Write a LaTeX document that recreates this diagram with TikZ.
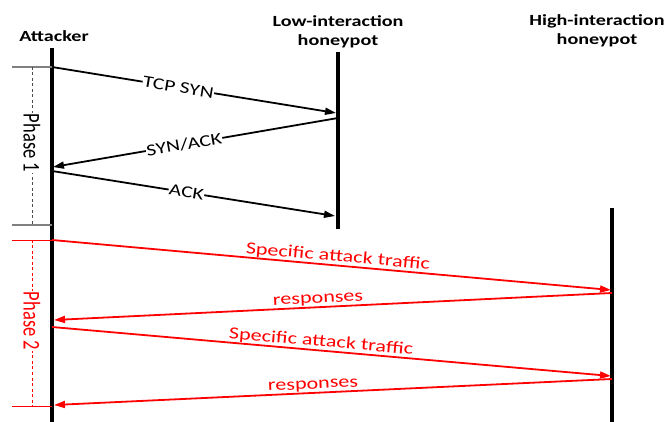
\documentclass[tikz,border=0pt]{standalone}
\usepackage{fontspec}
\setmainfont{Carlito}
\usepackage{graphicx}
\usetikzlibrary{arrows.meta}
\newcommand{\hx}[1]{\scalebox{1.3}[1]{#1}}
\newcommand{\vx}[1]{\scalebox{1}[1.3]{#1}}
\definecolor{ared}{RGB}{255,0,0}
\begin{document}
\begin{tikzpicture}[x=1pt,y=-1pt,
  header/.style={font=\fontsize{15.5}{19}\selectfont\bfseries, align=center, inner sep=0pt},
  lifeline/.style={line width=3.6pt},
  msg/.style={line width=1.8pt, -{Triangle[length=11pt,width=7pt]}},
  redmsg/.style={msg, draw=ared},
  blabel/.style={font=\fontsize{16.5}{18}\selectfont, fill=white, inner sep=0.5pt, sloped},
  rlabel/.style={font=\fontsize{17}{18}\selectfont, text=ared, inner sep=0.5pt, sloped, above},
  tick1/.style={draw=gray, line width=1.2pt},
  tick2/.style={draw=ared, line width=0.9pt},
  phaselab/.style={font=\fontsize{18.5}{20}\selectfont, fill=white, inner sep=1pt, rotate=-90}
]
\useasboundingbox (0,0) rectangle (670,422);

% headers
\node[header] (att) at (54,36) {\hx{Attacker}};
\node[header] (low) at (338,32) {\hx{Low-interaction}\\\hx{honeypot}};
\node[header] (high) at (597,31) {\hx{High-interaction}\\\hx{honeypot}};

% lifelines
\coordinate (aT) at (52,48);
\coordinate (aB) at (52,424);
\coordinate (lT) at (338,52);
\coordinate (lB) at (338,229);
\coordinate (hT) at (612,208);
\coordinate (hB) at (612,424);
\draw[lifeline] (aT) -- (aB);
\draw[lifeline] (lT) -- (lB);
\draw[lifeline] (hT) -- (hB);

% phase 1 bracket
\coordinate (p1a) at (12,67);
\coordinate (p1b) at (52,67);
\coordinate (p1c) at (12,225);
\coordinate (p1d) at (52,225);
\coordinate (p1t) at (32,67);
\coordinate (p1u) at (32,225);
\draw[tick1] (p1a) -- (p1b);
\draw[tick1] (p1c) -- (p1d);
\draw[line width=0.9pt, dash pattern=on 3pt off 2.5pt, draw=black!70] (p1t) -- (p1u);
\node[phaselab] (ph1) at (32,143) {\vx{Phase 1}};

% phase 2 bracket
\coordinate (p2a) at (12,240);
\coordinate (p2b) at (52,240);
\coordinate (p2c) at (12,406);
\coordinate (p2d) at (52,406);
\coordinate (p2t) at (32,240);
\coordinate (p2u) at (32,406);
\draw[tick2] (p2a) -- (p2b);
\draw[tick2] (p2c) -- (p2d);
\draw[line width=0.9pt, dash pattern=on 3pt off 2.5pt, draw=ared] (p2t) -- (p2u);
\node[phaselab, text=ared] (ph2) at (32,321) {\vx{Phase 2}};

% phase 1 messages
\coordinate (m1s) at (52,67);
\coordinate (m1e) at (336,113);
\coordinate (m2s) at (338,118);
\coordinate (m2e) at (53,167);
\coordinate (m3s) at (52,171);
\coordinate (m3e) at (335,216);
\draw[msg] (m1s) -- node[blabel, pos=0.445] {\hx{TCP SYN}} (m1e);
\draw[msg] (m2s) -- node[blabel, pos=0.54] {\hx{SYN/ACK}} (m2e);
\draw[msg] (m3s) -- node[blabel, pos=0.475] {\hx{ACK}} (m3e);

% phase 2 messages
\coordinate (r1s) at (52,240);
\coordinate (r1e) at (611,290);
\coordinate (r2s) at (612,293);
\coordinate (r2e) at (54,320);
\coordinate (r3s) at (52,327);
\coordinate (r3e) at (611,376);
\coordinate (r4s) at (612,379);
\coordinate (r4e) at (54,405);
\draw[redmsg] (r1s) -- node[rlabel, pos=0.51] {\hx{Specific attack traffic}} (r1e);
\draw[redmsg] (r2s) -- node[rlabel, pos=0.526] {\hx{responses}} (r2e);
\draw[redmsg] (r3s) -- node[rlabel, pos=0.48] {\hx{Specific attack traffic}} (r3e);
\draw[redmsg] (r4s) -- node[rlabel, pos=0.535] {\hx{responses}} (r4e);
\end{tikzpicture}
\end{document}
